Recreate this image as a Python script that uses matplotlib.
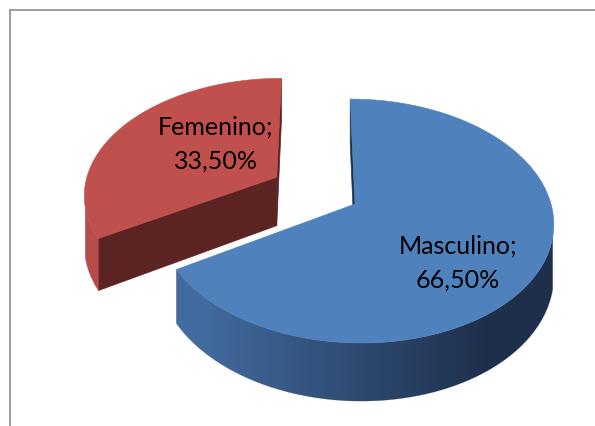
import numpy as np
import matplotlib
matplotlib.use("Agg")
import matplotlib.pyplot as plt
from matplotlib.patches import Polygon
from matplotlib.colors import to_rgb

# ---- data -------------------------------------------------------------
categories = ["Femenino", "Masculino"]
shares = [33.5, 66.5]
pct_labels = ["33,50%", "66,50%"]
explode = [0.467, 0.0]

# ---- style ------------------------------------------------------------
TOP_COLORS = ["#C0504D", "#4F81BD"]
SIDE_LIGHT = ["#B84C49", "#426CA0"]
SIDE_DARK = ["#A94542", "#1E2F4B"]
CUT_COLORS = ["#5B2422", "#1F3452"]
LABEL_POS = [(216, 169), (458, 288)]   # last-line baselines of the labels

# 3-D view (Excel-like perspective)
ELEV = np.radians(37.6)
DIST = 5.68
CAM_X = -0.2
HEIGHT = 0.317      # used for face culling
H_PX = 50.0         # side thickness in pixels at scale 1
CX, CY, K = 355.0, 205.0, 196.0
START = 90.0
W, H = 595, 427

cam = np.array([CAM_X, -DIST * np.cos(ELEV), DIST * np.sin(ELEV)])


def proj(x, y, bottom=False):
    yv = y * np.sin(ELEV)
    dv = y * np.cos(ELEV)
    s = DIST / (DIST + dv)
    X = CAM_X + (x - CAM_X) * s
    py = CY - K * yv * s
    if bottom:
        py += H_PX * s
    return CX + K * X, py


def visible(normal, point):
    return np.dot(normal, cam - np.asarray(point)) > 0


def gradient_fill(ax, pts, c0, c1, zorder):
    """Fill polygon with a horizontal left->right colour ramp."""
    pts = np.asarray(pts)
    patch = Polygon(pts, closed=True, fc="none", ec="none", zorder=zorder)
    ax.add_patch(patch)
    y0, y1 = pts[:, 1].min(), pts[:, 1].max()
    gx = np.linspace(0, W, 600)
    u = (gx - (CX - K)) / (2 * K)
    t = np.clip((u - 0.1) * 1.35, 0, 1)
    a, b = np.array(to_rgb(c0)), np.array(to_rgb(c1))
    row = a[None, :] + (b - a)[None, :] * t[:, None]
    img = ax.imshow(row[None, :, :], extent=(0, W, y1 + 1, y0 - 1),
                    aspect="auto", interpolation="bilinear", zorder=zorder)
    img.set_clip_path(patch)
    # soft edge so the outline is antialiased
    ax.add_patch(Polygon(pts, closed=True, fc="none", ec=c1, lw=0.3,
                         alpha=0.5, zorder=zorder))


fig = plt.figure(figsize=(W / 100, H / 100), dpi=100)
ax = fig.add_axes([0, 0, 1, 1])

# chart frame (only left and top edges fall inside the picture)
ax.plot([10, 10, W], [H, 11, 11], color="#8E8E8E", lw=1.2,
        solid_joinstyle="miter")

total = float(sum(shares))
slices = []
a = START
for i, v in enumerate(shares):
    span = v / total * 360.0
    mid = np.radians(a + span / 2)
    off = np.array([np.cos(mid), np.sin(mid)]) * explode[i]
    slices.append((i, a, a + span, off))
    a += span

# back slices first
slices.sort(key=lambda s: -s[3][1])

for n_draw, (i, a0, a1, off) in enumerate(slices):
    z = 2 + 3 * n_draw
    ox, oy = off
    th = np.radians(np.linspace(a0, a1, 400))
    xs, ys = ox + np.cos(th), oy + np.sin(th)

    # radial cut faces
    for ang, sign in ((a0, -1), (a1, 1)):
        r = np.radians(ang)
        n = np.array([np.cos(r + sign * np.pi / 2), np.sin(r + sign * np.pi / 2), 0])
        if visible(n, (ox, oy, -HEIGHT / 2)):
            ex, ey = ox + np.cos(r), oy + np.sin(r)
            pts = [proj(ox, oy), proj(ex, ey),
                   proj(ex, ey, True), proj(ox, oy, True)]
            ax.add_patch(Polygon(pts, closed=True, fc=CUT_COLORS[i],
                                 ec=CUT_COLORS[i], lw=0.5, zorder=z))

    # outer curved side: visible arc only
    vis = np.array([visible(np.array([np.cos(t_), np.sin(t_), 0]),
                            (x_, y_, -HEIGHT / 2))
                    for t_, x_, y_ in zip(th, xs, ys)])
    if vis.any():
        idx = np.where(vis)[0]
        sel = slice(idx.min(), idx.max() + 1)
        upper = [proj(x, y) for x, y in zip(xs[sel], ys[sel])]
        lower = [proj(x, y, True) for x, y in zip(xs[sel], ys[sel])][::-1]
        gradient_fill(ax, upper + lower, SIDE_LIGHT[i], SIDE_DARK[i], z + 1)

    # top face
    top = [proj(ox, oy)] + [proj(x, y) for x, y in zip(xs, ys)]
    ax.add_patch(Polygon(top, closed=True, fc=TOP_COLORS[i], ec=TOP_COLORS[i],
                         lw=0.4, zorder=z + 2))

for i, name in enumerate(categories):
    ax.text(LABEL_POS[i][0], LABEL_POS[i][1], f"{name};\n{pct_labels[i]}",
            ha="center", va="baseline", multialignment="center",
            fontsize=18, linespacing=1.58, color="black", zorder=20,
            family=["Lato", "DejaVu Sans"])

ax.set_xlim(0, W)
ax.set_ylim(H, 0)
ax.axis("off")

fig.savefig("out.png", dpi=100)
